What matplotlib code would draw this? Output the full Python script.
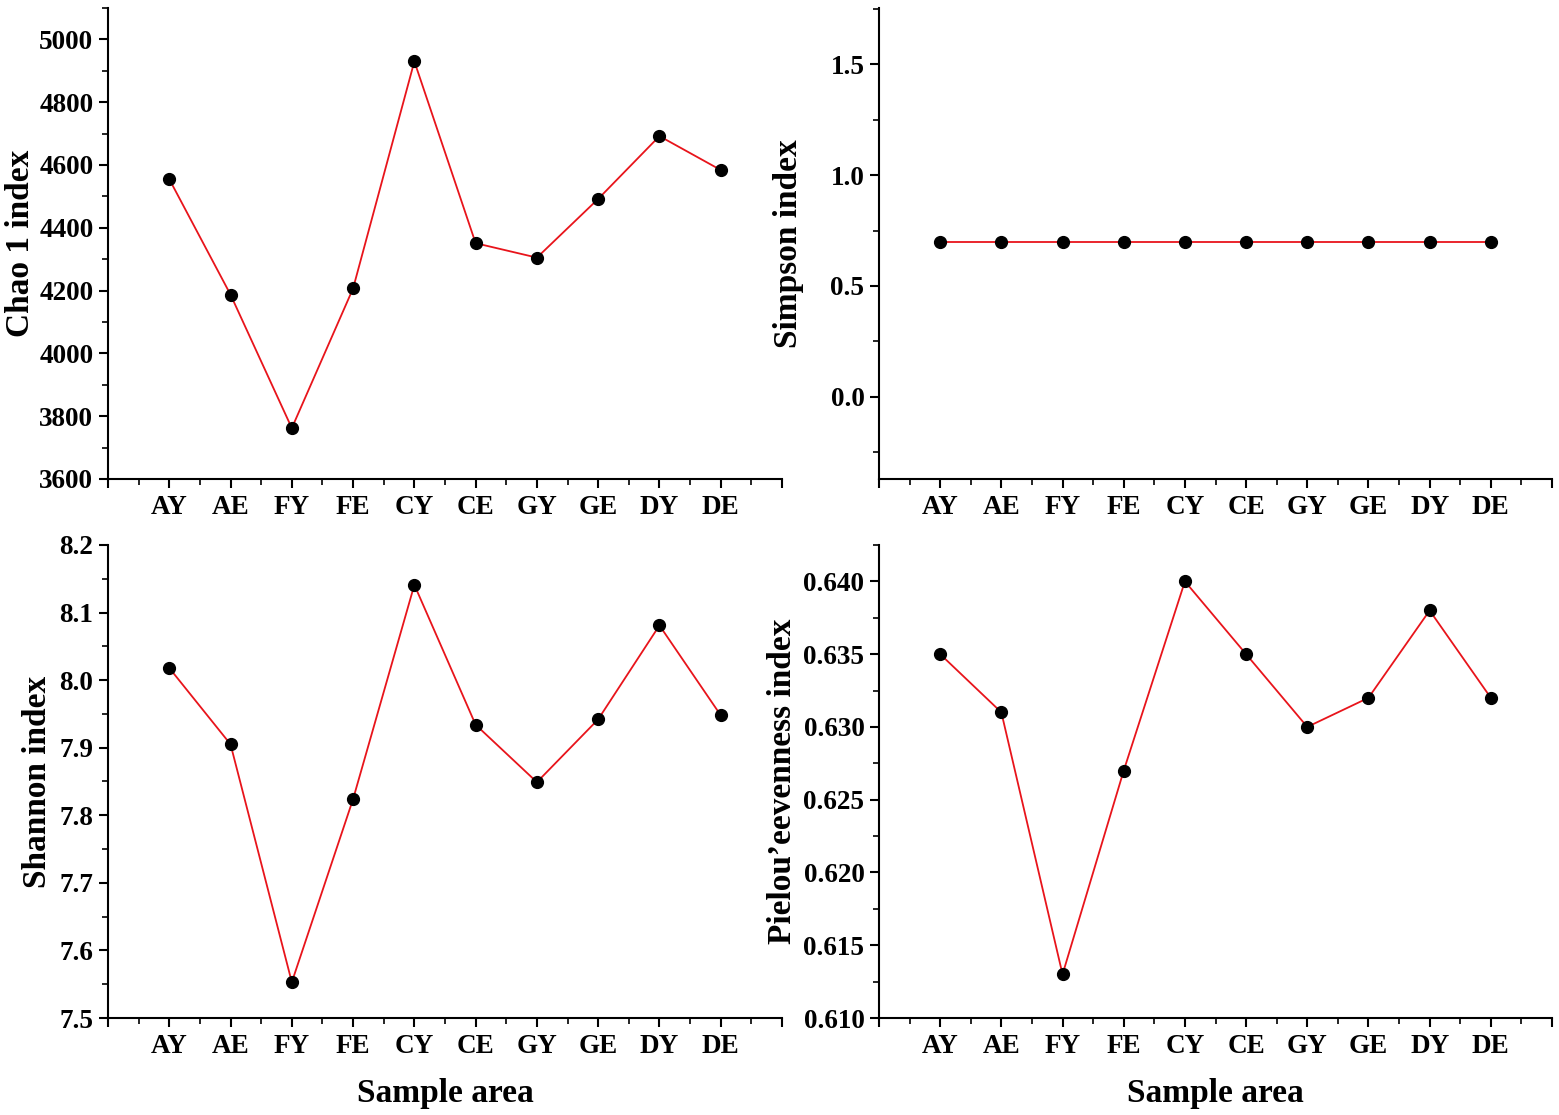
import matplotlib
matplotlib.use("Agg")
import matplotlib.pyplot as plt
from matplotlib.ticker import MultipleLocator, FixedLocator

plt.rcParams['font.family'] = 'Liberation Serif'
plt.rcParams['font.weight'] = 'bold'

# sample areas
areas = ["AY", "AE", "FY", "FE", "CY", "CE", "GY", "GE", "DY", "DE"]

# index values
chao1 = [4555, 4187, 3762, 4207, 4930, 4351, 4305, 4492, 4692, 4584]
simpson = [0.70, 0.70, 0.70, 0.70, 0.70, 0.70, 0.70, 0.70, 0.70, 0.70]
shannon = [8.018, 7.905, 7.553, 7.824, 8.141, 7.934, 7.849, 7.942, 8.081, 7.948]
pielou = [0.635, 0.631, 0.613, 0.627, 0.640, 0.635, 0.630, 0.632, 0.638, 0.632]

W, H = 1559, 1115
fig = plt.figure(figsize=(W / 100, H / 100), dpi=100)


def make_ax(left, top, right, bottom):
    return fig.add_axes([left / W, 1 - bottom / H, (right - left) / W, (bottom - top) / H])


# axes box (pixels), data, label, limits, ticks, format, xlabel?, ylabel right edge (pixels)
panels = [
    ((108, 8, 782, 479), chao1, "Chao 1 index", (3600, 5100), 200, 100, "{:.0f}", False, 36),
    ((879, 8, 1552, 479), simpson, "Simpson index", (-0.372, 1.755), 0.5, 0.25, "{:.1f}", False, 804),
    ((108, 545, 782, 1018), shannon, "Shannon index", (7.5, 8.2), 0.1, 0.05, "{:.1f}", True, 53),
    ((879, 545, 1552, 1018), pielou, "Pielou\u2019eevenness index", (0.610, 0.6425), 0.005, 0.0025, "{:.3f}", True, 798),
]

x = list(range(1, len(areas) + 1))

for box, vals, ylab, ylim, major, minor, fmt, bottom_row, lab_x in panels:
    ax = make_ax(*box)
    ax.plot(x, vals, color="#e8141b", lw=1.3, zorder=2)
    ax.plot(x, vals, "o", color="black", ms=8.5, zorder=3, clip_on=False)
    ax.set_xlim(0, 11)
    ax.set_ylim(*ylim)

    for s in ["top", "right"]:
        ax.spines[s].set_visible(False)
    for s in ["left", "bottom"]:
        ax.spines[s].set_linewidth(1.5)

    ax.xaxis.set_major_locator(FixedLocator(list(range(0, 12))))
    ax.xaxis.set_minor_locator(FixedLocator([i + 0.5 for i in range(11)]))
    ax.set_xticklabels([""] + areas + [""])

    ax.yaxis.set_major_locator(MultipleLocator(major))
    ax.yaxis.set_minor_locator(MultipleLocator(minor))
    ax.yaxis.set_major_formatter(matplotlib.ticker.FuncFormatter(lambda v, p, f=fmt: f.format(v)))

    ax.tick_params(which="major", direction="out", length=6.5, width=1.5, labelsize=19.5, pad=4)
    ax.tick_params(which="minor", direction="out", length=4, width=1.2)
    ax.tick_params(axis="x", which="major", pad=5)

    ax.set_ylabel(ylab, fontsize=24, fontweight="bold")
    ax.yaxis.set_label_coords((lab_x - box[0]) / (box[2] - box[0]), 0.5)
    if bottom_row:
        ax.set_xlabel("Sample area", fontsize=24, fontweight="bold", labelpad=14)

fig.savefig("out.png", dpi=100)
